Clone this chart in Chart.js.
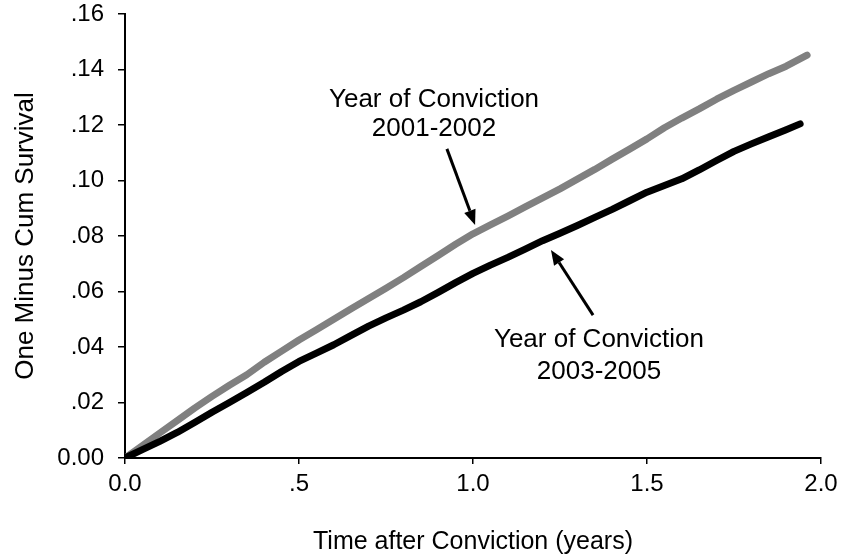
<!DOCTYPE html>
<html>
<head>
<meta charset="utf-8">
<script src="https://cdn.jsdelivr.net/npm/chart.js@4.4.1/dist/chart.umd.min.js"></script>
<style>
  body { margin: 0; background: #fff; }
</style>
</head>
<body>
<canvas id="myChart" width="844" height="557"></canvas>
<script>
// 数据 (时间, 年)
var grayTimes = [0.00, 0.05, 0.10, 0.15, 0.20, 0.25, 0.30, 0.35, 0.40, 0.45, 0.50, 0.55, 0.60, 0.65, 0.70, 0.75, 0.80, 0.85, 0.90, 0.95, 1.00, 1.05, 1.10, 1.15, 1.20, 1.25, 1.30, 1.35, 1.40, 1.45, 1.50, 1.55, 1.60, 1.65, 1.70, 1.75, 1.80, 1.85, 1.90, 1.96];
var grayValues = [0.000, 0.0045, 0.0090, 0.0135, 0.0180, 0.0222, 0.0262, 0.0300, 0.0345, 0.0385, 0.0425, 0.0462, 0.0500, 0.0538, 0.0575, 0.0612, 0.0650, 0.0690, 0.0730, 0.0770, 0.0808, 0.0840, 0.0872, 0.0905, 0.0937, 0.0970, 0.1005, 0.1040, 0.1077, 0.1113, 0.1150, 0.1190, 0.1225, 0.1258, 0.1293, 0.1325, 0.1355, 0.1385, 0.1412, 0.1452];
var blackTimes = [0.00, 0.05, 0.10, 0.15, 0.20, 0.25, 0.30, 0.35, 0.40, 0.45, 0.50, 0.55, 0.60, 0.65, 0.70, 0.75, 0.80, 0.85, 0.90, 0.95, 1.00, 1.05, 1.10, 1.15, 1.20, 1.25, 1.30, 1.35, 1.40, 1.45, 1.50, 1.55, 1.60, 1.65, 1.70, 1.75, 1.80, 1.85, 1.90, 1.94];
var blackValues = [0.000, 0.0030, 0.0060, 0.0092, 0.0128, 0.0165, 0.0200, 0.0236, 0.0273, 0.0312, 0.0348, 0.0378, 0.0408, 0.0442, 0.0475, 0.0505, 0.0533, 0.0563, 0.0597, 0.0632, 0.0665, 0.0695, 0.0723, 0.0753, 0.0783, 0.0810, 0.0838, 0.0867, 0.0896, 0.0927, 0.0958, 0.0982, 0.1006, 0.1038, 0.1072, 0.1105, 0.1132, 0.1158, 0.1183, 0.1204];

// 刻度标签
var xTickValues = [0, 0.5, 1.0, 1.5, 2.0];
var xTickLabels = ['0.0', '.5', '1.0', '1.5', '2.0'];
var yTickValues = [0, 0.02, 0.04, 0.06, 0.08, 0.10, 0.12, 0.14, 0.16];
var yTickLabels = ['0.00', '.02', '.04', '.06', '.08', '.10', '.12', '.14', '.16'];

// 注释 (数据坐标)
var notes = [
  { lines: ['Year of Conviction', '2001-2002'], x: 0.888, y: [0.129, 0.1186], from: [0.925, 0.1114], to: [1.006, 0.084] },
  { lines: ['Year of Conviction', '2003-2005'], x: 1.362, y: [0.0425, 0.031], from: [1.345, 0.0515], to: [1.224, 0.075] }
];

var FONT = 'Liberation Sans, Arial, sans-serif';

function toPoints(xs, ys) {
  return xs.map(function (t, i) { return { x: t, y: ys[i] }; });
}

function pickLabel(values, labels, v) {
  for (var i = 0; i < values.length; i++) {
    if (Math.abs(values[i] - v) < 1e-9) return labels[i];
  }
  return '';
}

// 画注释和箭头
var notePlugin = {
  id: 'notes',
  afterDatasetsDraw: function (chart) {
    var c = chart.ctx, xs = chart.scales.x, ys = chart.scales.y;
    c.save();
    c.fillStyle = '#000';
    c.strokeStyle = '#000';
    c.font = '26px ' + FONT;
    c.textAlign = 'center';
    c.textBaseline = 'middle';
    notes.forEach(function (n) {
      n.lines.forEach(function (s, i) {
        c.fillText(s, xs.getPixelForValue(n.x), ys.getPixelForValue(n.y[i]));
      });
      var x1 = xs.getPixelForValue(n.from[0]), y1 = ys.getPixelForValue(n.from[1]);
      var x2 = xs.getPixelForValue(n.to[0]), y2 = ys.getPixelForValue(n.to[1]);
      var a = Math.atan2(y2 - y1, x2 - x1);
      var hl = 15, hw = 6;
      var bx = x2 - hl * Math.cos(a), by = y2 - hl * Math.sin(a);
      c.lineWidth = 3;
      c.beginPath();
      c.moveTo(x1, y1);
      c.lineTo(bx, by);
      c.stroke();
      c.beginPath();
      c.moveTo(x2, y2);
      c.lineTo(bx + hw * Math.sin(a), by - hw * Math.cos(a));
      c.lineTo(bx - hw * Math.sin(a), by + hw * Math.cos(a));
      c.closePath();
      c.fill();
    });
    c.restore();
  }
};

var ctx = document.getElementById('myChart').getContext('2d');
var myChart = new Chart(ctx, {
  type: 'line',
  data: {
    datasets: [{
      label: '2003-2005',
      data: toPoints(blackTimes, blackValues),
      borderColor: '#000000',
      borderWidth: 7,
      borderCapStyle: 'round',
      borderJoinStyle: 'round',
      pointRadius: 0,
      tension: 0,
      order: 0
    }, {
      label: '2001-2002',
      data: toPoints(grayTimes, grayValues),
      borderColor: '#808080',
      borderWidth: 7,
      borderCapStyle: 'round',
      borderJoinStyle: 'round',
      pointRadius: 0,
      tension: 0,
      order: 1
    }]
  },
  options: {
    responsive: false,
    animation: false,
    layout: { padding: { top: 14, right: 23, left: 0, bottom: 0 } },
    plugins: { legend: { display: false }, tooltip: { enabled: false } },
    scales: {
      x: {
        type: 'linear',
        min: 0, max: 2,
        afterBuildTicks: function (s) { s.ticks = xTickValues.map(function (v) { return { value: v }; }); },
        afterFit: function (s) { s.height = 99; s.paddingLeft = 0; s.paddingRight = 0; },
        ticks: {
          color: '#000', font: { family: FONT, size: 24 }, padding: 6, maxRotation: 0,
          callback: function (v) { return pickLabel(xTickValues, xTickLabels, v); }
        },
        grid: { drawOnChartArea: false, drawTicks: true, tickLength: 6, color: '#000', lineWidth: 1.5 },
        border: { display: true, color: '#000', width: 2 },
        title: { display: true, text: 'Time after Conviction (years)', color: '#000', font: { family: FONT, size: 25 }, padding: { top: 28, bottom: 0 } }
      },
      y: {
        min: 0, max: 0.16,
        afterBuildTicks: function (s) { s.ticks = yTickValues.map(function (v) { return { value: v }; }); },
        afterFit: function (s) { s.width = 125; s.paddingTop = 0; s.paddingBottom = 0; },
        ticks: {
          color: '#000', font: { family: FONT, size: 24 }, padding: 14,
          callback: function (v) { return pickLabel(yTickValues, yTickLabels, v); }
        },
        grid: { drawOnChartArea: false, drawTicks: true, tickLength: 7, color: '#000', lineWidth: 1.5 },
        border: { display: true, color: '#000', width: 2 },
        title: { display: true, text: 'One Minus Cum Survival', color: '#000', font: { family: FONT, size: 26 }, padding: { top: 10, bottom: 4 } }
      }
    }
  },
  plugins: [notePlugin]
});
</script>
</body>
</html>
